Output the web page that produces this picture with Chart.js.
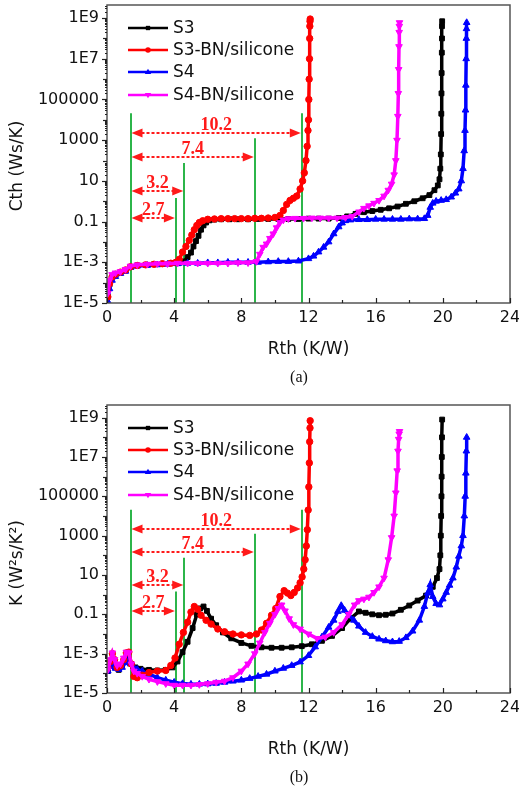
<!DOCTYPE html>
<html>
<head>
<meta charset="utf-8">
<script src="https://cdn.jsdelivr.net/npm/chart.js@4.4.0/dist/chart.umd.min.js"></script>
<style>
  body { margin: 0; background: #fff; }
  canvas { position: absolute; left: 0; }
  #chartA { top: 0; }
  #chartB { top: 400px; }
</style>
</head>
<body>
<canvas id="chartA" width="519" height="400"></canvas>
<canvas id="chartB" width="519" height="390"></canvas>
<script>
// ---- series names / styles ----
const seriesNames = ['S3', 'S3-BN/silicone', 'S4', 'S4-BN/silicone'];
const seriesColors = ['#000000', '#ff0000', '#0000ff', '#ff00ff'];

// ---- axis ticks ----
const rthTicks = [0, 4, 8, 12, 16, 20, 24];
const yTickValues = [1e-5, 1e-3, 0.1, 10, 1000, 100000, 1e7, 1e9];
const yTickLabels = ['1E-5', '1E-3', '0.1', '10', '1000', '100000', '1E7', '1E9'];

// ---- panel (a): cumulative structure function, Cth vs Rth ----
const s3Rth_a = [0.05, 0.15, 0.3, 0.5, 0.8, 1.1, 1.4, 1.8, 2.3, 2.8, 3.3, 3.8, 4.3, 4.6, 4.8, 5.0, 5.15, 5.3, 5.45, 5.6, 5.75, 5.9, 6.1, 6.4, 6.8, 7.3, 7.8, 8.4, 9.0, 9.6, 10.2, 10.8, 11.4, 12.0, 12.6, 13.2, 13.8, 14.3, 14.8, 15.3, 15.8, 16.3, 16.8, 17.3, 17.8, 18.3, 18.8, 19.2, 19.5, 19.7, 19.8, 19.85, 19.88, 19.9, 19.91, 19.92, 19.93, 19.94, 19.95, 19.95, 19.96];
const s3Cth_a = [2e-5, 8e-5, 1.8e-4, 2.5e-4, 3.2e-4, 4e-4, 6e-4, 7e-4, 7.5e-4, 8e-4, 8.5e-4, 9e-4, 9.5e-4, 1.1e-3, 1.8e-3, 3e-3, 6e-3, 0.011, 0.02, 0.04, 0.065, 0.09, 0.115, 0.125, 0.13, 0.13, 0.13, 0.13, 0.135, 0.135, 0.135, 0.135, 0.135, 0.14, 0.14, 0.14, 0.15, 0.18, 0.24, 0.29, 0.33, 0.38, 0.45, 0.55, 0.75, 1.0, 1.4, 2.0, 3.5, 6, 12, 40, 200, 2e3, 2e4, 2e5, 2e6, 2e7, 1e8, 4e8, 7e8];

const s3bnRth_a = [0.05, 0.15, 0.3, 0.5, 0.8, 1.1, 1.4, 1.8, 2.3, 2.8, 3.3, 3.8, 4.1, 4.3, 4.5, 4.7, 4.9, 5.05, 5.2, 5.35, 5.5, 5.7, 6.0, 6.4, 6.8, 7.2, 7.6, 8.0, 8.4, 8.8, 9.2, 9.6, 10.0, 10.3, 10.5, 10.7, 10.9, 11.1, 11.3, 11.5, 11.65, 11.75, 11.85, 11.92, 11.97, 12.0, 12.02, 12.04, 12.06, 12.07, 12.08, 12.09, 12.1];
const s3bnCth_a = [2e-5, 9e-5, 1.9e-4, 2.6e-4, 3.3e-4, 4.2e-4, 6e-4, 7e-4, 7.5e-4, 8e-4, 8.5e-4, 9e-4, 1.0e-3, 1.4e-3, 3.2e-3, 6e-3, 0.012, 0.022, 0.04, 0.065, 0.09, 0.11, 0.13, 0.135, 0.14, 0.14, 0.14, 0.14, 0.14, 0.145, 0.145, 0.15, 0.16, 0.2, 0.35, 0.7, 1.1, 1.4, 1.8, 4, 10, 25, 100, 500, 3e3, 1e4, 1e5, 1e6, 1e7, 1e8, 4e8, 7e8, 9e8];

const s4Rth_a = [0.05, 0.15, 0.3, 0.5, 0.8, 1.1, 1.4, 1.8, 2.4, 3.0, 3.6, 4.2, 4.8, 5.4, 6.0, 6.6, 7.2, 7.8, 8.4, 9.0, 9.6, 10.2, 10.8, 11.4, 12.0, 12.3, 12.6, 12.9, 13.2, 13.5, 13.8, 14.0, 14.2, 14.5, 15.0, 15.5, 16.0, 16.5, 17.0, 17.5, 18.0, 18.5, 18.9, 19.1, 19.25, 19.4, 19.6, 19.9, 20.2, 20.5, 20.75, 20.95, 21.1, 21.2, 21.27, 21.32, 21.35, 21.37, 21.39, 21.4, 21.41, 21.42];
const s4Cth_a = [1.2e-5, 5e-5, 1.3e-4, 2e-4, 2.8e-4, 3.6e-4, 5.5e-4, 6.5e-4, 7e-4, 7.5e-4, 8e-4, 8.5e-4, 9e-4, 9e-4, 9.5e-4, 9.5e-4, 1e-3, 1e-3, 1e-3, 1e-3, 1.05e-3, 1.1e-3, 1.1e-3, 1.15e-3, 1.5e-3, 2e-3, 3.2e-3, 5.5e-3, 0.01, 0.025, 0.055, 0.085, 0.11, 0.12, 0.125, 0.125, 0.13, 0.13, 0.13, 0.13, 0.135, 0.135, 0.14, 0.2, 0.5, 0.8, 1.0, 1.1, 1.2, 1.6, 2.5, 4, 10, 40, 300, 3e3, 3e4, 5e5, 1e7, 1e8, 3e8, 6e8];

const s4bnRth_a = [0.05, 0.15, 0.3, 0.5, 0.8, 1.1, 1.4, 1.8, 2.4, 3.0, 3.6, 4.2, 4.8, 5.4, 6.0, 6.6, 7.2, 7.8, 8.4, 8.9, 9.1, 9.3, 9.5, 9.7, 9.9, 10.1, 10.3, 10.5, 10.8, 11.2, 11.7, 12.2, 12.7, 13.2, 13.7, 14.2, 14.6, 15.0, 15.3, 15.6, 15.9, 16.2, 16.5, 16.75, 16.95, 17.1, 17.2, 17.27, 17.32, 17.35, 17.37, 17.39, 17.4, 17.41, 17.42];
const s4bnCth_a = [3e-5, 1.3e-4, 2.5e-4, 3e-4, 3.5e-4, 4.5e-4, 6.5e-4, 7.5e-4, 8e-4, 8.5e-4, 8.5e-4, 9e-4, 9e-4, 9e-4, 9e-4, 9e-4, 9e-4, 9.5e-4, 9.5e-4, 1.1e-3, 2.5e-3, 5.5e-3, 8e-3, 0.015, 0.025, 0.05, 0.09, 0.12, 0.14, 0.145, 0.145, 0.15, 0.15, 0.15, 0.15, 0.16, 0.18, 0.3, 0.45, 0.6, 0.8, 1.1, 1.8, 3.5, 7, 20, 100, 1e3, 1.5e4, 2e5, 3e6, 4e7, 2e8, 4e8, 6e8];

// ---- panel (b): differential structure function, K vs Rth ----
const s3Rth_b = [0.05, 0.2, 0.35, 0.5, 0.7, 0.9, 1.1, 1.25, 1.45, 1.7, 2.0, 2.5, 3.0, 3.5, 3.9, 4.2, 4.5, 4.8, 5.1, 5.35, 5.55, 5.75, 5.95, 6.2, 6.5, 6.9, 7.4, 8.0, 8.6, 9.2, 9.8, 10.4, 11.0, 11.6, 12.2, 12.8, 13.4, 14.0, 14.5, 15.0, 15.4, 15.8, 16.2, 16.6, 17.0, 17.5, 18.0, 18.5, 19.0, 19.4, 19.65, 19.8, 19.85, 19.88, 19.9, 19.92, 19.93, 19.94, 19.95, 19.96];
const s3K_b = [1.3e-4, 2.5e-4, 4e-4, 2e-4, 1.5e-4, 2.5e-4, 5e-4, 6e-4, 3e-4, 2e-4, 1.7e-4, 1.5e-4, 1.4e-4, 1.5e-4, 2e-4, 4e-4, 1.2e-3, 4e-3, 0.02, 0.1, 0.2, 0.25, 0.15, 0.06, 0.028, 0.012, 6e-3, 3.5e-3, 2.5e-3, 2.1e-3, 2e-3, 2e-3, 2.1e-3, 2.4e-3, 3e-3, 4.5e-3, 8e-3, 0.02, 0.06, 0.14, 0.12, 0.1, 0.09, 0.095, 0.11, 0.17, 0.28, 0.5, 0.9, 2.5, 7, 20, 100, 1e3, 1e4, 1e5, 1e6, 1e7, 1e8, 8e8];

const s3bnRth_b = [0.05, 0.2, 0.32, 0.45, 0.6, 0.8, 1.0, 1.15, 1.3, 1.45, 1.6, 1.8, 2.1, 2.5, 3.0, 3.5, 3.8, 4.05, 4.3, 4.55, 4.8, 5.0, 5.2, 5.4, 5.6, 5.9, 6.2, 6.6, 7.0, 7.5, 8.0, 8.5, 8.9, 9.2, 9.5, 9.8, 10.05, 10.3, 10.55, 10.75, 10.95, 11.15, 11.35, 11.5, 11.62, 11.72, 11.8, 11.87, 11.93, 11.98, 12.02, 12.05, 12.07, 12.09, 12.1];
const s3bnK_b = [2e-4, 4e-4, 1e-3, 5e-4, 2e-4, 2.5e-4, 5e-4, 1.1e-3, 1.2e-3, 3e-4, 7e-5, 6e-5, 8e-5, 1.1e-4, 1.3e-4, 1.4e-4, 2.5e-4, 6e-4, 3e-3, 0.012, 0.04, 0.13, 0.25, 0.18, 0.09, 0.05, 0.032, 0.018, 0.013, 0.01, 0.009, 0.0085, 0.01, 0.016, 0.035, 0.09, 0.2, 0.8, 1.6, 1.2, 0.9, 1.3, 2.2, 4, 8, 20, 60, 300, 2e3, 2e4, 3e5, 5e6, 6e7, 3e8, 7e8];

const s4Rth_b = [0.05, 0.2, 0.35, 0.5, 0.7, 0.9, 1.1, 1.25, 1.4, 1.6, 1.8, 2.1, 2.5, 3.0, 3.5, 4.0, 4.5, 5.0, 5.5, 6.0, 6.5, 7.0, 7.5, 8.0, 8.5, 9.0, 9.5, 10.0, 10.5, 11.0, 11.5, 12.0, 12.4, 12.8, 13.2, 13.5, 13.75, 13.95, 14.15, 14.4, 14.7, 15.0, 15.4, 15.8, 16.2, 16.6, 17.0, 17.4, 17.8, 18.2, 18.6, 18.9, 19.1, 19.25, 19.4, 19.6, 19.8, 20.0, 20.2, 20.4, 20.6, 20.8, 20.95, 21.1, 21.2, 21.28, 21.33, 21.37, 21.4, 21.42];
const s4K_b = [1.3e-4, 2.2e-4, 2.5e-4, 1.8e-4, 1.6e-4, 2e-4, 3.5e-4, 4.2e-4, 3e-4, 2e-4, 1.6e-4, 1.3e-4, 9e-5, 6e-5, 4.5e-5, 3.5e-5, 3e-5, 2.8e-5, 2.8e-5, 2.9e-5, 3.1e-5, 3.5e-5, 4e-5, 4.5e-5, 5.5e-5, 7e-5, 9e-5, 1.3e-4, 1.8e-4, 2.5e-4, 3.8e-4, 8e-4, 2.2e-3, 7e-3, 0.022, 0.05, 0.14, 0.28, 0.16, 0.09, 0.05, 0.025, 0.012, 7.5e-3, 5.5e-3, 4.5e-3, 4e-3, 4.2e-3, 6.5e-3, 0.014, 0.05, 0.25, 1.2, 3.2, 0.8, 0.35, 0.3, 0.6, 1.3, 3, 7, 25, 90, 300, 1e3, 1e4, 1e5, 1.5e6, 2e7, 1e8];

const s4bnRth_b = [0.05, 0.2, 0.32, 0.45, 0.6, 0.8, 1.0, 1.15, 1.3, 1.45, 1.6, 1.8, 2.1, 2.5, 3.0, 3.5, 4.0, 4.5, 5.0, 5.5, 6.0, 6.5, 7.0, 7.5, 8.0, 8.4, 8.8, 9.1, 9.4, 9.7, 10.0, 10.2, 10.4, 10.6, 10.85, 11.1, 11.5, 12.0, 12.5, 13.0, 13.5, 14.0, 14.4, 14.75, 15.0, 15.3, 15.6, 15.9, 16.2, 16.5, 16.75, 16.95, 17.1, 17.2, 17.28, 17.33, 17.37, 17.4, 17.42];
const s4bnK_b = [1.5e-4, 5e-4, 1.1e-3, 5e-4, 2.5e-4, 3e-4, 6e-4, 1.2e-3, 1.1e-3, 3e-4, 1.3e-4, 1e-4, 7e-5, 5e-5, 3.8e-5, 3e-5, 2.5e-5, 2.5e-5, 2.5e-5, 2.7e-5, 3e-5, 3.5e-5, 4e-5, 6e-5, 1.3e-4, 3e-4, 1e-3, 3.5e-3, 0.012, 0.035, 0.1, 0.2, 0.3, 0.15, 0.06, 0.03, 0.018, 0.01, 6e-3, 7e-3, 0.012, 0.03, 0.1, 0.3, 0.5, 0.6, 0.75, 1.3, 2.5, 7, 60, 800, 1e4, 1.5e5, 2e6, 2e7, 8e7, 1.5e8, 2e8];

// ---- annotation values (green guides + red span arrows) ----
const guideRth = [1.4, 4.1, 4.6, 8.8, 11.6];
const guideTop = [2.1e4, 1.45, 76, 1260, 2.1e4];
const spanStart = 1.4;
const spanEnd = [11.6, 8.8, 4.6, 4.1];
const spanLevel = [2.2e3, 150, 3.2, 0.15];
const spanLabels = ['10.2', '7.4', '3.2', '2.7'];

const pointStyles = ['rect', 'circle', 'triangle', 'triangle'];
const pointRotations = [0, 0, 0, 180];
const pointSizes = [3.4, 3.2, 3.8, 3.8];
const drawOrder = [3, 1, 2, 0];

function toPoints(xs, ys) {
  return xs.map((x, i) => ({ x: x, y: ys[i] }));
}

function drawMarker(ctx, i, x, y) {
  const r = pointSizes[i] * 0.85;
  ctx.fillStyle = seriesColors[i];
  ctx.beginPath();
  if (pointStyles[i] === 'rect') {
    ctx.rect(x - r * 0.75, y - r * 0.75, r * 1.5, r * 1.5);
  } else if (pointStyles[i] === 'circle') {
    ctx.arc(x, y, r, 0, Math.PI * 2);
  } else if (pointRotations[i] === 180) {
    ctx.moveTo(x, y + r);
    ctx.lineTo(x + r, y - r * 0.6);
    ctx.lineTo(x - r, y - r * 0.6);
    ctx.closePath();
  } else {
    ctx.moveTo(x, y - r);
    ctx.lineTo(x + r, y + r * 0.6);
    ctx.lineTo(x - r, y + r * 0.6);
    ctx.closePath();
  }
  ctx.fill();
}

const decorations = {
  id: 'decorations',
  beforeDatasetsDraw(chart) {
    const { ctx, chartArea: a, scales: { x, y } } = chart;
    ctx.save();
    ctx.strokeStyle = '#2cb54a';
    ctx.lineWidth = 2;
    guideRth.forEach((r, i) => {
      const px = Math.round(x.getPixelForValue(r));
      ctx.beginPath();
      ctx.moveTo(px, a.bottom);
      ctx.lineTo(px, y.getPixelForValue(guideTop[i]));
      ctx.stroke();
    });

    // red span arrows
    ctx.strokeStyle = '#ff1a1a';
    ctx.fillStyle = '#ff1a1a';
    const x0 = x.getPixelForValue(spanStart) + 1;
    spanEnd.forEach((end, i) => {
      const x1 = x.getPixelForValue(end) - 1;
      const py = Math.round(y.getPixelForValue(spanLevel[i]));
      const head = 10;
      ctx.lineWidth = 2;
      ctx.setLineDash([3, 2]);
      ctx.beginPath();
      ctx.moveTo(x0 + head, py);
      ctx.lineTo(x1 - head, py);
      ctx.stroke();
      ctx.setLineDash([]);
      ctx.beginPath();
      ctx.moveTo(x0, py);
      ctx.lineTo(x0 + head + 1, py - 4.5);
      ctx.lineTo(x0 + head + 1, py + 4.5);
      ctx.closePath();
      ctx.fill();
      ctx.beginPath();
      ctx.moveTo(x1, py);
      ctx.lineTo(x1 - head - 1, py - 4.5);
      ctx.lineTo(x1 - head - 1, py + 4.5);
      ctx.closePath();
      ctx.fill();
      ctx.font = 'bold 18px "Liberation Serif"';
      ctx.textAlign = 'center';
      ctx.textBaseline = 'alphabetic';
      ctx.fillText(spanLabels[i], (x0 + x1) / 2, py - 3);
    });
    ctx.restore();
  },
  afterDraw(chart, args, opts) {
    const { ctx, chartArea: a, scales: { x, y } } = chart;
    ctx.save();
    // frame
    ctx.strokeStyle = '#555';
    ctx.lineWidth = 1.5;
    ctx.strokeRect(a.left, a.top, a.right - a.left, a.bottom - a.top);

    // y ticks (outward)
    ctx.strokeStyle = '#222';
    ctx.lineWidth = 1.2;
    for (let e = -5; e <= 9; e++) {
      for (let m = 1; m <= 9; m++) {
        const v = m * Math.pow(10, e);
        if (v > y.max) break;
        const py = Math.round(y.getPixelForValue(v)) + 0.5;
        const len = m === 1 ? ((e + 5) % 2 === 0 ? 5 : 4) : 2;
        ctx.beginPath();
        ctx.moveTo(a.left, py);
        ctx.lineTo(a.left - len, py);
        ctx.stroke();
      }
    }
    // x ticks (inward)
    for (let v = 0; v <= 24; v += 2) {
      const px = Math.round(x.getPixelForValue(v)) + 0.5;
      const len = v % 4 === 0 ? 5 : 3;
      ctx.beginPath();
      ctx.moveTo(px, a.bottom);
      ctx.lineTo(px, a.bottom - len);
      ctx.stroke();
    }

    // legend
    const rows = [28, 50, 72, 95];
    ctx.font = '17px "DejaVu Sans"';
    ctx.textBaseline = 'middle';
    ctx.textAlign = 'left';
    seriesNames.forEach((name, i) => {
      ctx.strokeStyle = seriesColors[i];
      ctx.lineWidth = 2.5;
      ctx.beginPath();
      ctx.moveTo(128, rows[i]);
      ctx.lineTo(168, rows[i]);
      ctx.stroke();
      drawMarker(ctx, i, 148, rows[i]);
      ctx.fillStyle = '#111';
      ctx.fillText(name, 173, rows[i] + 1);
    });

    // axis titles + caption
    ctx.fillStyle = '#111';
    ctx.textAlign = 'center';
    ctx.font = '17px "DejaVu Sans"';
    ctx.fillText('Rth (K/W)', (a.left + a.right) / 2, 350);
    ctx.save();
    ctx.translate(18, opts.titleY);
    ctx.rotate(-Math.PI / 2);
    ctx.fillText(opts.yTitle, 0, 0);
    ctx.restore();
    ctx.font = '16px "Liberation Serif"';
    ctx.fillText(opts.caption, 299, 378);
    ctx.restore();
  }
};

function makePanel(canvasId, seriesData, yTitle, titleY, caption) {
  const datasets = seriesData.map((pts, i) => ({
    label: seriesNames[i],
    data: pts,
    borderColor: seriesColors[i],
    backgroundColor: seriesColors[i],
    borderWidth: 3.5,
    pointStyle: pointStyles[i],
    rotation: pointRotations[i],
    pointRadius: pointSizes[i],
    pointBorderWidth: 1,
    tension: 0,
    order: drawOrder[i]
  }));

  return new Chart(document.getElementById(canvasId), {
    type: 'line',
    data: { datasets },
    plugins: [decorations],
    options: {
      responsive: false,
      animation: false,
      events: [],
      layout: { padding: { top: 5, right: 9, left: 0, bottom: 0 } },
      plugins: {
        legend: { display: false },
        tooltip: { enabled: false },
        decorations: { yTitle, titleY, caption }
      },
      scales: {
        x: {
          type: 'linear',
          min: 0,
          max: 24,
          afterBuildTicks(s) { s.ticks = rthTicks.map(v => ({ value: v })); },
          ticks: { padding: 5, maxRotation: 0, autoSkip: false, color: '#111', font: { family: 'DejaVu Sans', size: 16 } },
          grid: { display: false, drawTicks: false },
          border: { display: false },
          afterFit(s) { s.height = 97; s.paddingLeft = 0; s.paddingRight = 0; }
        },
        y: {
          type: 'logarithmic',
          min: 1e-5,
          max: 4.4e9,
          afterBuildTicks(s) { s.ticks = yTickValues.map(v => ({ value: v })); },
          ticks: {
            padding: 8,
            autoSkip: false,
            color: '#111',
            font: { family: 'DejaVu Sans', size: 16 },
            callback: (v, i) => yTickLabels[i]
          },
          grid: { display: false, drawTicks: false },
          border: { display: false },
          afterFit(s) { s.width = 107; s.paddingTop = 0; s.paddingBottom = 0; }
        }
      }
    }
  });
}

makePanel('chartA', [
  toPoints(s3Rth_a, s3Cth_a),
  toPoints(s3bnRth_a, s3bnCth_a),
  toPoints(s4Rth_a, s4Cth_a),
  toPoints(s4bnRth_a, s4bnCth_a)
], 'Cth (Ws/K)', 166, '(a)');

makePanel('chartB', [
  toPoints(s3Rth_b, s3K_b),
  toPoints(s3bnRth_b, s3bnK_b),
  toPoints(s4Rth_b, s4K_b),
  toPoints(s4bnRth_b, s4bnK_b)
], 'K (W\u00b2s/K\u00b2)', 163, '(b)');
</script>
</body>
</html>
